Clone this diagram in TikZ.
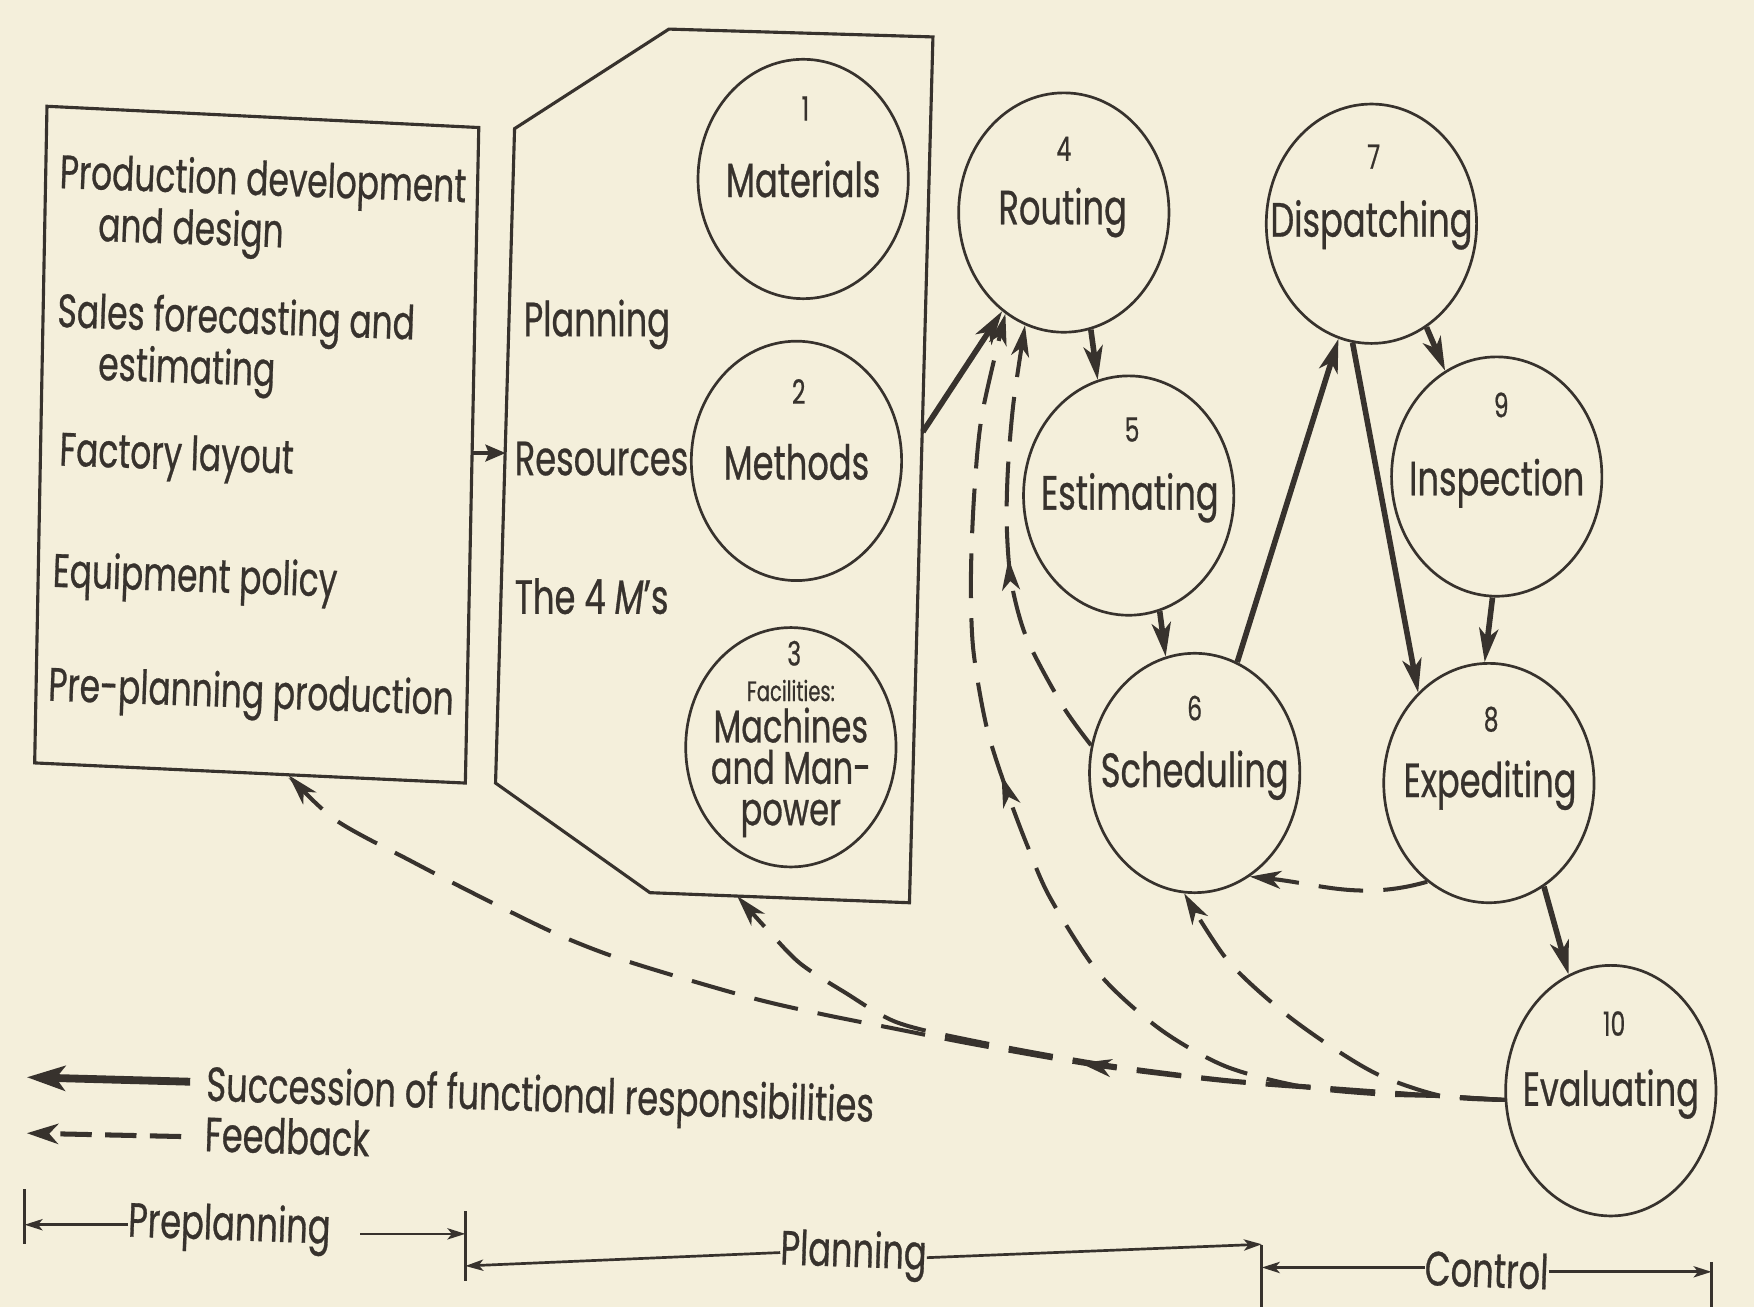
\documentclass[tikz,border=0pt]{standalone}
\usepackage{fontspec}
\setmainfont{Poppins}[FakeStretch=0.7, FakeBold=0.6]
\usetikzlibrary{arrows.meta,shapes.geometric,decorations.markings}
\definecolor{ink}{RGB}{55,50,45}
\definecolor{paper}{RGB}{244,239,219}
\begin{document}
\begin{tikzpicture}[x=1pt,y=-1pt,
  txt/.style={font=\fontsize{43}{48}\selectfont, text=ink, inner sep=0pt},
  boxtxt/.style={font=\fontsize{42}{46}\selectfont, text=ink, inner sep=0pt, align=left},
  num/.style={font=\fontsize{30}{32}\selectfont, text=ink, inner sep=0pt},
  circ/.style={ellipse, draw=ink, line width=2.4pt, minimum width=188pt, minimum height=214pt, inner sep=0pt},
  frame/.style={draw=ink, line width=2.8pt, line join=miter},
  succ/.style={draw=ink, line width=5pt, -{Stealth[length=30pt,width=17pt,inset=8pt]}},
  fb/.style={draw=ink, line width=3.6pt, dash pattern=on 40pt off 18pt},
  fbtip/.style={-{Stealth[length=28pt,width=16pt,inset=8pt]}},
  midtip/.style={postaction={decorate,decoration={markings,mark=at position #1 with {\arrow[solid]{Stealth[length=28pt,width=16pt,inset=8pt]}}}}},
  scaleline/.style={draw=ink, line width=2.4pt},
  scaletip/.style={-{Stealth[length=16pt,width=10pt,inset=4pt]}}
]
\fill[paper] (0,0) rectangle (1568,1168);
\useasboundingbox (0,0) rectangle (1568,1168);

% ---------- left box ----------
\coordinate (b1) at (42,95);
\coordinate (b2) at (428,114);
\coordinate (b3) at (416,700);
\coordinate (b4) at (31,682);
\draw[frame] (b1) -- (b2) -- (b3) -- (b4) -- cycle;
\coordinate (boxR) at (422,405);
\coordinate (boxB) at (258,693);

\node[boxtxt, anchor=north west, rotate=-2] (pd) at (54,136) {Production development\\\hspace*{36pt}and design};
\node[boxtxt, anchor=north west, rotate=-2] (sf) at (52,260) {Sales forecasting and\\\hspace*{38pt}estimating};
\node[boxtxt, anchor=west, rotate=-2] (fl) at (53,406) {Factory layout};
\node[boxtxt, anchor=west, rotate=-2] (ep) at (47,514) {Equipment policy};
\node[boxtxt, anchor=west, rotate=-2] (pp) at (43,616) {Pre-planning production};

% ---------- hexagon ----------
\coordinate (h1) at (460,115);
\coordinate (h2) at (598,26);
\coordinate (h3) at (834,33);
\coordinate (h4) at (813,807);
\coordinate (h5) at (581,798);
\coordinate (h6) at (443,700);
\draw[frame] (h1) -- (h2) -- (h3) -- (h4) -- (h5) -- (h6) -- cycle;
\coordinate (hexL) at (452,405);
\coordinate (hexR) at (825,386);
\coordinate (hexB) at (659,801);

\node[txt, anchor=west] (hp) at (468,290) {Planning};
\node[txt, anchor=west] (hr) at (460,410) {Resources};
\node[txt, anchor=west] (hm) at (460,533) {The 4 \textit{M}’s};

\draw[draw=ink, line width=3pt, -{Stealth[length=18pt,width=15pt,inset=3pt]}] (boxR) -- (hexL);

% ---------- circles ----------
\node[circ] (n1) at (718,160) {};
\node[num] (n1n) at (720,97) {1};
\node[txt] (n1t) at (718,160) {Materials};

\node[circ] (n2) at (712,412) {};
\node[num] (n2n) at (714,350) {2};
\node[txt] (n2t) at (712,413) {Methods};

\node[circ] (n3) at (707,668) {};
\node[num] (n3n) at (710,584) {3};
\node[font=\fontsize{41}{37}\selectfont, text=ink, inner sep=0pt, align=center] (n3t) at (707,678) {{\fontsize{25}{30}\selectfont Facilities:}\\Machines\\and Man-\\power};

\node[circ] (n4) at (951,190) {};
\node[num] (n4n) at (951,133) {4};
\node[txt] (n4t) at (950,190) {Routing};

\node[circ] (n5) at (1009,443) {};
\node[num] (n5n) at (1012,384) {5};
\node[txt] (n5t) at (1010,445) {Estimating};

\node[circ] (n6) at (1068,691) {};
\node[num] (n6n) at (1068,633) {6};
\node[txt] (n6t) at (1068,693) {Scheduling};

\node[circ] (n7) at (1226,200) {};
\node[num] (n7n) at (1228,140) {7};
\node[txt] (n7t) at (1226,201) {Dispatching};

\node[circ] (n9) at (1338,426) {};
\node[num] (n9n) at (1342,362) {9};
\node[txt] (n9t) at (1338,432) {Inspection};

\node[circ] (n8) at (1331,700) {};
\node[num] (n8n) at (1333,643) {8};
\node[txt] (n8t) at (1332,702) {Expediting};

\node[circ, minimum height=224pt] (n10) at (1440,975) {};
\node[num] (n10n) at (1443,915) {10};
\node[txt] (n10t) at (1440,978) {Evaluating};

% ---------- succession arrows ----------
\draw[succ] (hexR) -- (n4.-122);
\draw[succ] (n4.-77) -- (n5.105);
\draw[succ] (n5.-75) -- (n6.104);
\draw[succ] (n6.69) -- (n7.-106);
\draw[succ] (n7.-99) -- (n8.128);
\draw[succ] (n7.-62) -- (n9.116);
\draw[succ] (n9.-92) -- (n8.92);
\draw[succ] (n8.-62) -- (n10.110);

% ---------- feedback ----------
\draw[fb, fbtip] (n8.-122) to[out=196,in=-6] (n6.-62);

\draw[fb, fbtip, midtip=381pt] plot[smooth, tension=0.5] coordinates {(n10.185) (1290,980) (1180,973) (1091,966) (983,953) (873,934) (802,920) (732,906) (668,891) (563,860) (500,836) (430,802) (368,770) (300,733) (boxB)};

\draw[fb, fbtip] plot[smooth, tension=0.5] coordinates {(n10.185) (1290,980) (1180,972) (1091,965) (983,951) (873,931) (802,914) (755,887) (715,861) (685,830) (hexB)};

\draw[fb, fbtip] plot[smooth, tension=0.5] coordinates {(n10.185) (1290,980) (1235,962) (1192,937) (1145,903) (1097,858) (n6.-95)};

\draw[fb, fbtip, midtip=592pt] plot[smooth, tension=0.5] coordinates {(n10.185) (1290,980) (1229,978) (1162,971) (1095,953) (1037,920) (983,871) (939,803) (918,755) (900,707) (882,650) (870,580) (868,514) (871,440) (878,370) (n4.-120)};

\draw[fb, fbtip, midtip=185pt] plot[smooth, tension=0.5] coordinates {(n6.165) (950,631) (918,571) (904,520) (900,470) (901,420) (906,360) (n4.-109)};

% ---------- legend ----------
\coordinate (ls1) at (170,967);
\coordinate (ls2) at (24,963);
\draw[draw=ink, line width=7pt, -{Stealth[length=34pt,width=22pt,inset=8pt]}] (ls1) -- (ls2);
\coordinate (ld1) at (162,1016);
\coordinate (ld2) at (24,1013);
\draw[fb, line width=4.5pt, dash pattern=on 28pt off 12pt, -{Stealth[length=28pt,width=18pt,inset=8pt]}] (ld1) -- (ld2);
\node[txt, anchor=north west, rotate=-1.8, align=left, font=\fontsize{43}{45}\selectfont] (lt) at (185,951) {Succession of functional responsibilities\\Feedback};

% ---------- phase scale ----------
\coordinate (t0a) at (22,1063); \coordinate (t0b) at (22,1112);
\coordinate (t1a) at (416,1083); \coordinate (t1b) at (416,1145);
\coordinate (t2a) at (1128,1113); \coordinate (t2b) at (1128,1168);
\coordinate (t3a) at (1530,1128); \coordinate (t3b) at (1530,1168);
\draw[scaleline] (t0a) -- (t0b);
\draw[scaleline] (t1a) -- (t1b);
\draw[scaleline] (t2a) -- (t2b);
\draw[scaleline] (t3a) -- (t3b);

\node[txt, rotate=-2] (sc1) at (205,1098) {Preplanning};
\node[txt, rotate=-2] (sc2) at (763,1122) {Planning};
\node[txt, rotate=-2] (sc3) at (1329,1135) {Control};

\draw[scaleline, scaletip] (sc1.west) -- (t0a |- sc1.west);
\coordinate (s2a) at (322,1103);
\draw[scaleline, scaletip] (s2a) -- (t1a |- s2a);
\draw[scaleline, scaletip] (sc2.west) -- ([yshift=-12pt]t1a |- sc2.west);
\draw[scaleline, scaletip] (sc2.east) -- ([yshift=12pt]t2a |- sc2.east);
\draw[scaleline, scaletip] (sc3.west) -- (t2a |- sc3.west);
\draw[scaleline, scaletip] (sc3.east) -- (t3a |- sc3.east);
\end{tikzpicture}
\end{document}
